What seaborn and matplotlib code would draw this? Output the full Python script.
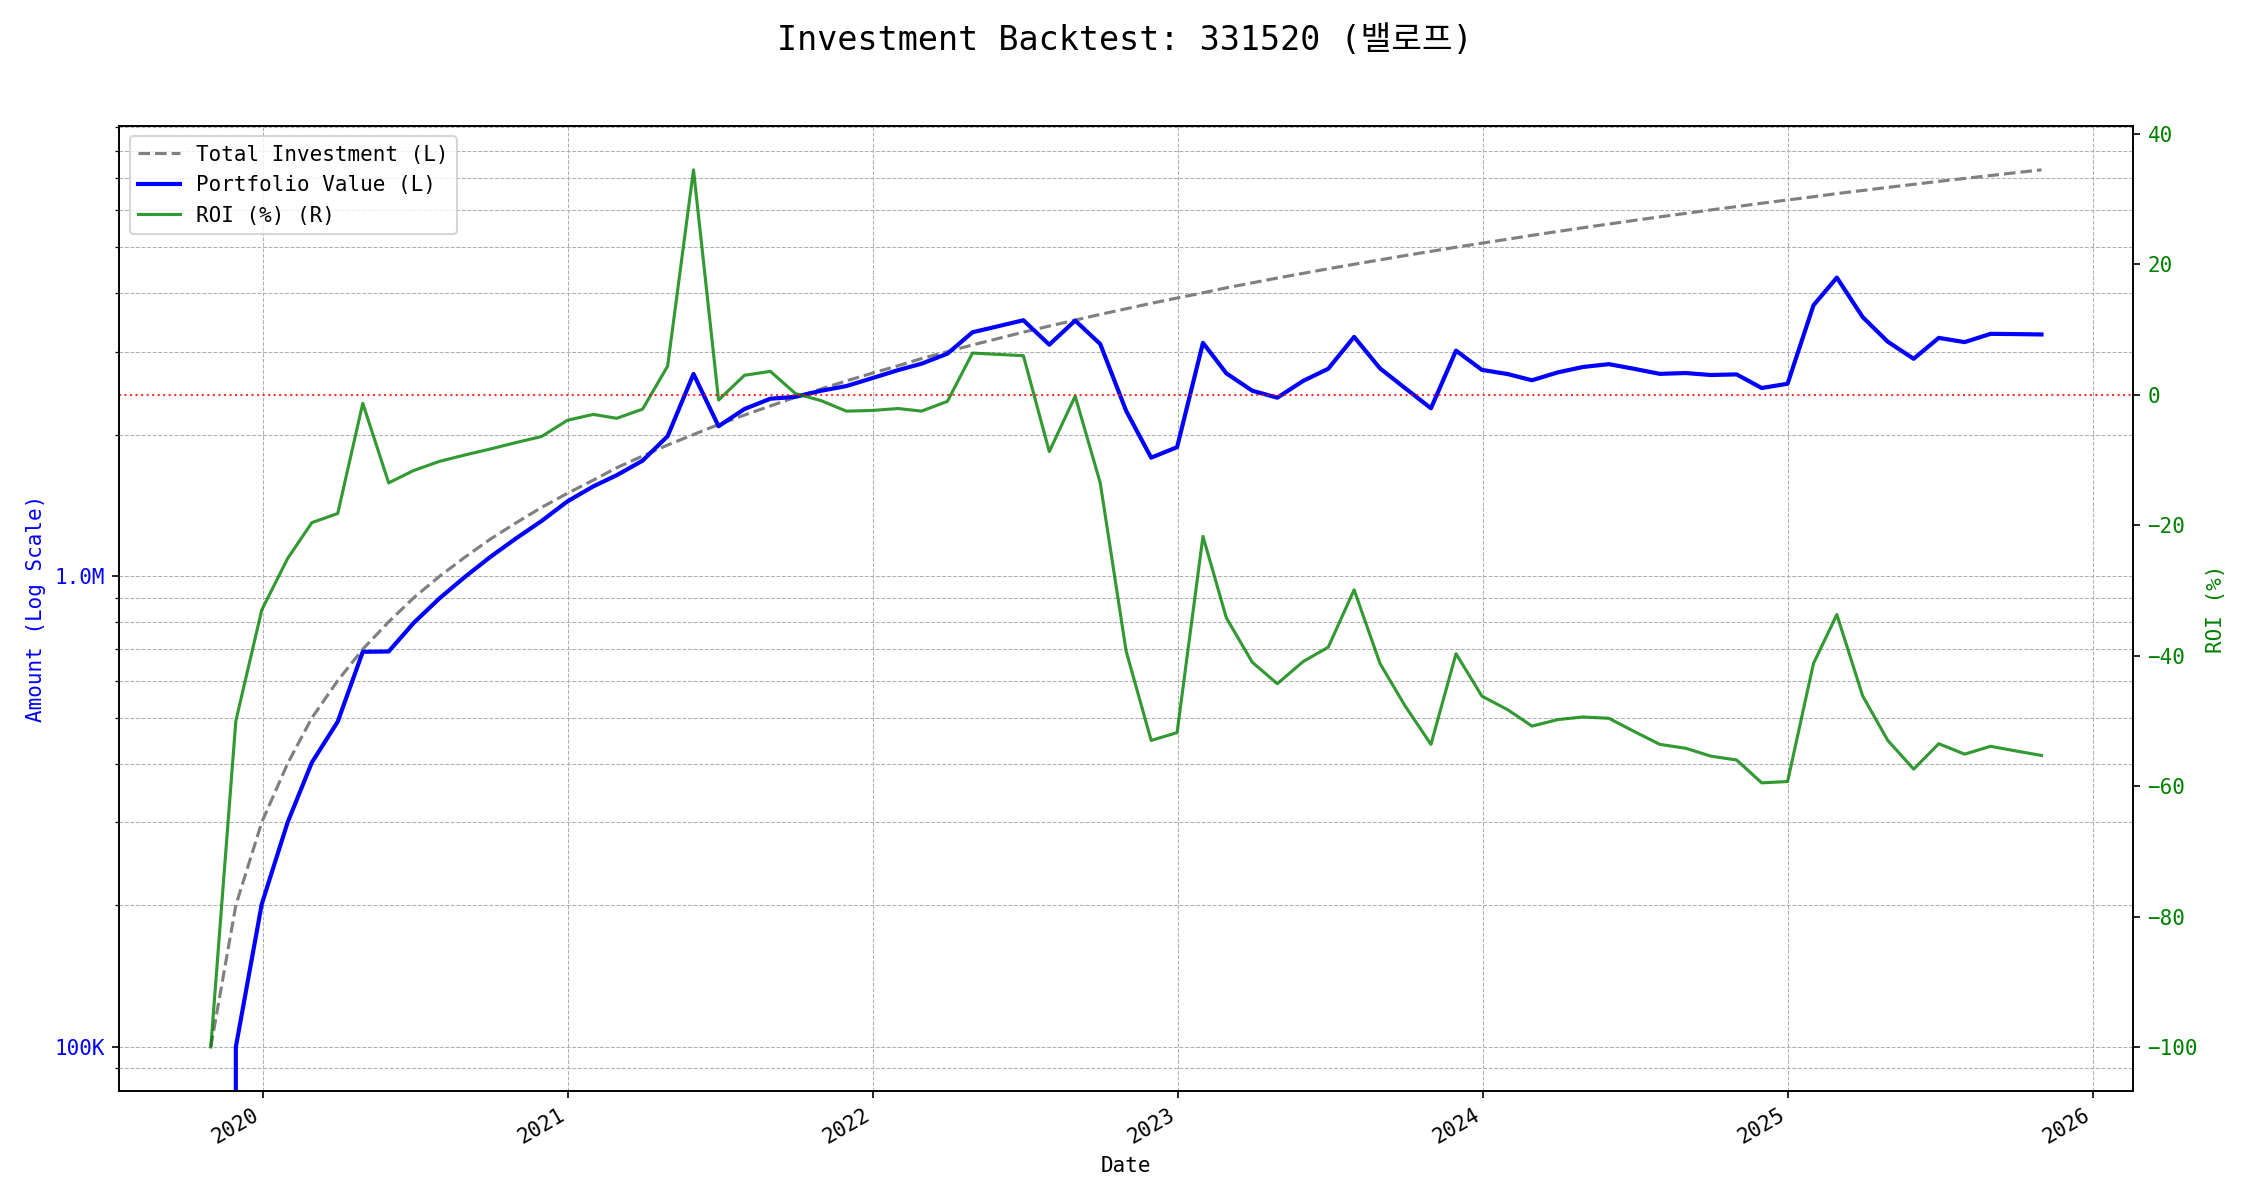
import numpy as np
import pandas as pd
import matplotlib
matplotlib.use("Agg")
import matplotlib.pyplot as plt
import matplotlib.ticker as mticker
import seaborn as sns

# ---------------- data (month-end observations) ----------------
dates = pd.date_range("2019-10-31", "2025-10-31", freq="ME")

# cumulative amount invested (thousand KRW)
total_invested_k = [
    100, 200, 300, 400, 500, 600, 700, 800, 900, 1000, 1100, 1200,
    1300, 1400, 1500, 1600, 1700, 1800, 1900, 2000, 2100, 2200, 2300, 2400,
    2500, 2600, 2700, 2800, 2900, 3000, 3100, 3200, 3300, 3400, 3500, 3600,
    3700, 3800, 3900, 4000, 4100, 4200, 4300, 4400, 4500, 4600, 4700, 4800,
    4900, 5000, 5100, 5200, 5300, 5400, 5500, 5600, 5700, 5800, 5900, 6000,
    6100, 6200, 6300, 6400, 6500, 6600, 6700, 6800, 6900, 7000, 7100, 7200,
    7300,
]

# portfolio market value (thousand KRW)
portfolio_value_k = [
    0, 100, 201, 300, 402, 491, 691, 692, 796, 898, 999, 1100,
    1205, 1310, 1442, 1552, 1639, 1760, 1984, 2690, 2083, 2266, 2383, 2405,
    2478, 2535, 2635, 2741, 2828, 2970, 3298, 3398, 3498, 3104, 3493, 3114,
    2246, 1786, 1880, 3132, 2698, 2478, 2395, 2600, 2759, 3225, 2764, 2510,
    2274, 3015, 2744, 2688, 2608, 2711, 2783, 2822, 2759, 2691, 2702, 2676,
    2684, 2511, 2564, 3763, 4310, 3551, 3149, 2897, 3209, 3143, 3273, 3269,
    3263,
]

# return on investment (%)
roi_pct = [
    -100.0, -50.0, -33.0, -25.1, -19.6, -18.2, -1.3, -13.5, -11.6, -10.2, -9.2, -8.3,
    -7.3, -6.4, -3.9, -3.0, -3.6, -2.2, 4.4, 34.5, -0.8, 3.0, 3.6, 0.2,
    -0.9, -2.5, -2.4, -2.1, -2.5, -1.0, 6.4, 6.2, 6.0, -8.7, -0.2, -13.5,
    -39.3, -53.0, -51.8, -21.7, -34.2, -41.0, -44.3, -40.9, -38.7, -29.9, -41.2, -47.7,
    -53.6, -39.7, -46.2, -48.3, -50.8, -49.8, -49.4, -49.6, -51.6, -53.6, -54.2, -55.4,
    -56.0, -59.5, -59.3, -41.2, -33.7, -46.2, -53.0, -57.4, -53.5, -55.1, -53.9, -54.6,
    -55.3,
]

title_text = "Investment Backtest: 331520 (밸로프)"

df = pd.DataFrame({
    "Date": dates,
    "Invested": np.array(total_invested_k, dtype=float) * 1000,
    "Value": np.array(portfolio_value_k, dtype=float) * 1000,
    "ROI": roi_pct,
})

# ---------------- style ----------------
plt.rcParams["font.family"] = ["DejaVu Sans Mono", "Noto Sans CJK KR"]
plt.rcParams["axes.unicode_minus"] = True

fig, ax1 = plt.subplots(figsize=(15, 8), dpi=150)
fig.subplots_adjust(left=0.053, right=0.948, top=0.895, bottom=0.091)

sns.lineplot(data=df, x="Date", y="Invested", ax=ax1, color="gray",
             linestyle="--", linewidth=1.5, label="Total Investment (L)")
sns.lineplot(data=df, x="Date", y="Value", ax=ax1, color="blue",
             linewidth=2, label="Portfolio Value (L)")
ax1.set_yscale("log")

def amount_fmt(v, pos):
    if v >= 1e6:
        return f"{v/1e6:.1f}M"
    return f"{v/1e3:.0f}K"

ax1.yaxis.set_major_formatter(mticker.FuncFormatter(amount_fmt))
ax1.yaxis.set_minor_formatter(mticker.NullFormatter())
ax1.set_ylabel("Amount (Log Scale)", color="blue")
ax1.tick_params(axis="y", which="both", labelcolor="blue")
ax1.set_xlabel("Date")
ax1.grid(True, which="both", linestyle="--", linewidth=0.5)

ax2 = ax1.twinx()
sns.lineplot(data=df, x="Date", y="ROI", ax=ax2, color="green", alpha=0.8,
             linewidth=1.5, label="ROI (%) (R)")
ax2.axhline(0, color="red", linestyle=":", linewidth=1, alpha=0.8)
ax2.set_ylabel("ROI (%)", color="green")
ax2.tick_params(axis="y", labelcolor="green")

for a in (ax1, ax2):
    leg = a.get_legend()
    if leg is not None:
        leg.remove()

h1, l1 = ax1.get_legend_handles_labels()
h2, l2 = ax2.get_legend_handles_labels()
ax2.legend(h1 + h2, l1 + l2, loc="upper left")

for lbl in ax1.get_xticklabels():
    lbl.set_rotation(30)
    lbl.set_ha("right")

fig.suptitle(title_text, fontsize=16)
fig.savefig("out.png", dpi=150)
